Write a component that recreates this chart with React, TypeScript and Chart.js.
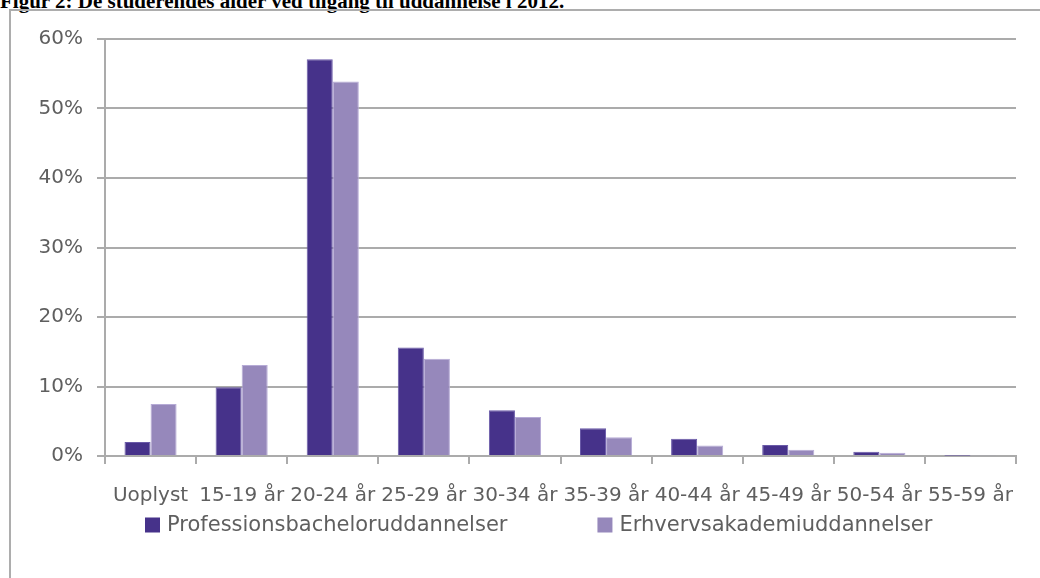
import React, { useEffect, useRef } from "react";
import { Chart, registerables } from "chart.js";

Chart.register(...registerables);

const title = "Figur 2: De studerendes alder ved tilgang til uddannelse i 2012.";
const categories = [
  "Uoplyst",
  "15-19 år",
  "20-24 år",
  "25-29 år",
  "30-34 år",
  "35-39 år",
  "40-44 år",
  "45-49 år",
  "50-54 år",
  "55-59 år",
];
const seriesNames = ["Professionsbacheloruddannelser", "Erhvervsakademiuddannelser"];
const professionsbachelor = [2.0, 9.9, 57.1, 15.6, 6.6, 4.0, 2.5, 1.6, 0.6, 0.05];
const erhvervsakademi = [7.5, 13.1, 53.9, 14.0, 5.6, 2.7, 1.5, 0.9, 0.45, 0.1];
const yMin = 0;
const yMax = 60;
const yStep = 10;

const FONT = "'DejaVu Sans', 'Open Sans', sans-serif";
const TEXT = "#5f5f5f";
const GRID = "#ababab";

const legendPlugin = {
  id: "bottomLegend",
  afterDraw(chart: any) {
    const ctx = chart.ctx;
    ctx.save();
    ctx.font = `21px ${FONT}`;
    ctx.textBaseline = "middle";
    ctx.textAlign = "left";
    const y = 525;
    let x = 145;
    chart.data.datasets.forEach((ds: any) => {
      ctx.fillStyle = ds.backgroundColor;
      ctx.fillRect(x, y - 7.5, 15, 15);
      ctx.fillStyle = TEXT;
      ctx.fillText(ds.label, x + 22, y + 1);
      x += 22 + ctx.measureText(ds.label).width + 90;
    });
    ctx.restore();
  },
};

export default function App() {
  const ref = useRef<HTMLCanvasElement | null>(null);

  useEffect(() => {
    if (!ref.current) return;
    const chart = new Chart(ref.current, {
      type: "bar",
      data: {
        labels: categories,
        datasets: [
          {
            label: seriesNames[0],
            data: professionsbachelor,
            backgroundColor: "#46328a",
            borderColor: "#6a5aa8",
            borderWidth: 1,
            categoryPercentage: 0.572,
            barPercentage: 1,
          },
          {
            label: seriesNames[1],
            data: erhvervsakademi,
            backgroundColor: "#9688bb",
            borderColor: "#b6abd6",
            borderWidth: 1,
            categoryPercentage: 0.572,
            barPercentage: 1,
          },
        ],
      },
      options: {
        animation: false,
        responsive: false,
        maintainAspectRatio: false,
        layout: { padding: { left: 0, right: 24, top: 39, bottom: 62 } },
        plugins: {
          legend: { display: false },
          tooltip: { enabled: false },
          title: { display: false },
        },
        scales: {
          x: {
            grid: {
              display: true,
              drawOnChartArea: false,
              drawTicks: true,
              tickLength: 8,
              color: GRID,
              lineWidth: 2,
              offset: true,
            },
            border: { display: true, color: GRID, width: 2 },
            ticks: {
              color: TEXT,
              font: { family: FONT, size: 20 },
              padding: 20,
              maxRotation: 0,
              autoSkip: false,
            },
            afterFit: (axis: any) => {
              axis.height = 60;
            },
          },
          y: {
            min: yMin,
            max: yMax,
            grid: {
              color: GRID,
              lineWidth: 2,
              tickLength: 8,
              drawTicks: true,
            },
            border: { display: true, color: GRID, width: 2 },
            ticks: {
              stepSize: yStep,
              color: TEXT,
              font: { family: FONT, size: 20 },
              padding: 14,
              callback: (v: any) => `${v}%`,
            },
            afterFit: (axis: any) => {
              axis.width = 105;
            },
          },
        },
      },
      plugins: [legendPlugin],
    });
    return () => chart.destroy();
  }, []);

  return (
    <div
      style={{
        position: "absolute",
        left: 0,
        top: 0,
        width: 1040,
        height: 578,
        overflow: "hidden",
        background: "#fff",
      }}
    >
      <div
        style={{
          position: "absolute",
          left: 0,
          top: -11,
          fontFamily: "'Liberation Serif', 'Times New Roman', serif",
          fontWeight: "bold",
          fontSize: 21,
          whiteSpace: "nowrap",
          color: "#000",
        }}
      >
        {title}
      </div>
      <div
        style={{
          position: "absolute",
          left: 9,
          top: 9,
          width: 1100,
          height: 700,
          border: "2px solid #adadad",
          boxSizing: "border-box",
        }}
      />
      <canvas
        ref={ref}
        width={1040}
        height={578}
        style={{ position: "absolute", left: 0, top: 0, width: 1040, height: 578 }}
      />
    </div>
  );
}
